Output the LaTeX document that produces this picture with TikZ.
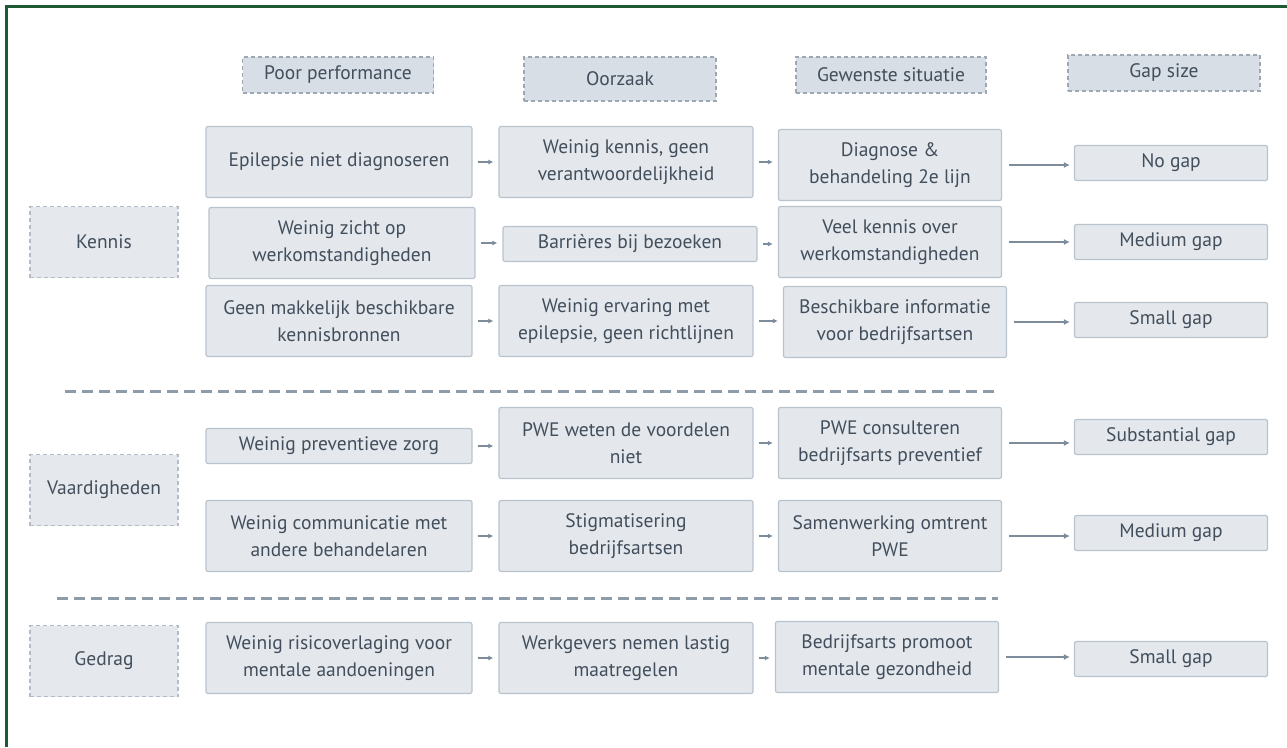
\documentclass[tikz,border=0pt]{standalone}
\usepackage{fontspec}
\setmainfont{PT Sans}
\usepackage{xcolor}
\usetikzlibrary{arrows.meta, positioning}
\definecolor{framegreen}{HTML}{1D5A32}
\definecolor{txtgray}{HTML}{424E5B}
\definecolor{cellfill}{HTML}{E4E8ED}
\definecolor{cellline}{HTML}{B9C3CD}
\definecolor{hdrfill}{HTML}{D7DEE5}
\definecolor{hdrline}{HTML}{9DA8B3}
\definecolor{catfill}{HTML}{E5E8EC}
\definecolor{catline}{HTML}{B3BBC4}
\definecolor{flowgray}{HTML}{7D8C9A}
\definecolor{sepgray}{HTML}{8E9CA9}
\tikzset{
    cell/.style={draw=cellline, line width=1.2pt, fill=cellfill, rounded corners=2pt,
        align=center, text=txtgray, inner sep=0pt, minimum height=71pt},
    lowcell/.style={minimum height=35pt},
    perf/.style={cell, minimum width=266pt},
    cause/.style={cell, minimum width=254pt},
    goal/.style={cell, minimum width=223pt},
    gapcell/.style={cell, lowcell, minimum width=193pt},
    hdr/.style={draw=hdrline, line width=1.2pt, dash pattern=on 4pt off 3pt, fill=hdrfill,
        text=txtgray, inner sep=0pt, minimum height=36pt},
    cat/.style={draw=catline, line width=1.2pt, dash pattern=on 4pt off 3pt, fill=catfill,
        text=txtgray, inner sep=0pt, minimum width=148pt, minimum height=71pt},
    link/.style={draw=flowgray, line width=1.5pt, -{Latex[length=5pt,width=5pt]},
        shorten <=5pt, shorten >=5pt},
    gaplink/.style={draw=flowgray, line width=2pt, -{Latex[length=6pt,width=6pt]},
        shorten <=7pt, shorten >=4pt},
    sepline/.style={draw=sepgray, line width=3pt, dash pattern=on 11pt off 6pt}
}

\begin{document}
\begin{tikzpicture}[x=1pt, y=-1pt, font=\fontsize{19.5}{27.5}\selectfont]
\useasboundingbox (0,0) rectangle (1287,747);
\draw[framegreen, line width=3pt] (6,747) -- (6,6) -- (1287,6);
% === HEADERS ===
\node[hdr, minimum width=191pt] (hperf) at (338,75) {Poor performance};
\node[hdr, minimum width=192pt, minimum height=44pt] (hcause) at (620,79) {Oorzaak};
\node[hdr, minimum width=190pt] (hgoal) at (891,75) {Gewenste situatie};
\node[hdr, minimum width=192pt] (hgap) at (1164,73) {Gap size};
% === CATEGORIES ===
\node[cat] (kennis) at (104,242) {Kennis};
\node[cat] (vaard) at (104,490) {Vaardigheden};
\node[cat] (gedrag) at (104,661) {Gedrag};
\draw[sepline] (65,391) -- (998,391);
\draw[sepline] (57,598) -- (998,598);
% === POOR PERFORMANCE ===
\node[perf] (p1) at (339,162) {Epilepsie niet diagnoseren};
\node[perf] (p2) at (342,243) {Weinig zicht op\\werkomstandigheden};
\node[perf] (p3) at (339,321) {Geen makkelijk beschikbare\\kennisbronnen};
\node[perf, lowcell] (p4) at (339,446) {Weinig preventieve zorg};
\node[perf] (p5) at (339,536) {Weinig communicatie met\\andere behandelaren};
\node[perf] (p6) at (339,658) {Weinig risicoverlaging voor\\mentale aandoeningen};
% === OORZAAK ===
\node[cause] (o1) at (626,162) {Weinig kennis, geen\\verantwoordelijkheid};
\node[cause, lowcell] (o2) at (630,244) {Barrières bij bezoeken};
\node[cause] (o3) at (626,321) {Weinig ervaring met\\epilepsie, geen richtlijnen};
\node[cause] (o4) at (626,443) {PWE weten de voordelen\\niet};
\node[cause] (o5) at (626,536) {Stigmatisering\\bedrijfsartsen};
\node[cause] (o6) at (626,658) {Werkgevers nemen lastig\\maatregelen};
% === GEWENSTE SITUATIE ===
\node[goal] (w1) at (890,165) {Diagnose \&\\behandeling 2e lijn};
\node[goal] (w2) at (890,242) {Veel kennis over\\werkomstandigheden};
\node[goal] (w3) at (895,322) {Beschikbare informatie\\voor bedrijfsartsen};
\node[goal] (w4) at (890,443) {PWE consulteren\\bedrijfsarts preventief};
\node[goal] (w5) at (890,536) {Samenwerking omtrent\\PWE};
\node[goal] (w6) at (887,657) {Bedrijfsarts promoot\\mentale gezondheid};
% === GAP SIZE ===
\node[gapcell] (g1) at (1171,163) {No gap};
\node[gapcell] (g2) at (1171,242) {Medium gap};
\node[gapcell] (g3) at (1171,320) {Small gap};
\node[gapcell] (g4) at (1171,437) {Substantial gap};
\node[gapcell] (g5) at (1171,533) {Medium gap};
\node[gapcell] (g6) at (1171,659) {Small gap};
% arrows
\foreach \i in {1,...,6} {
    \draw[link] (p\i.east) -- (p\i.east -| o\i.west);
    \draw[link] (o\i.east) -- (o\i.east -| w\i.west);
    \draw[gaplink] (w\i.east) -- (w\i.east -| g\i.west);
}
\end{tikzpicture}
\end{document}
